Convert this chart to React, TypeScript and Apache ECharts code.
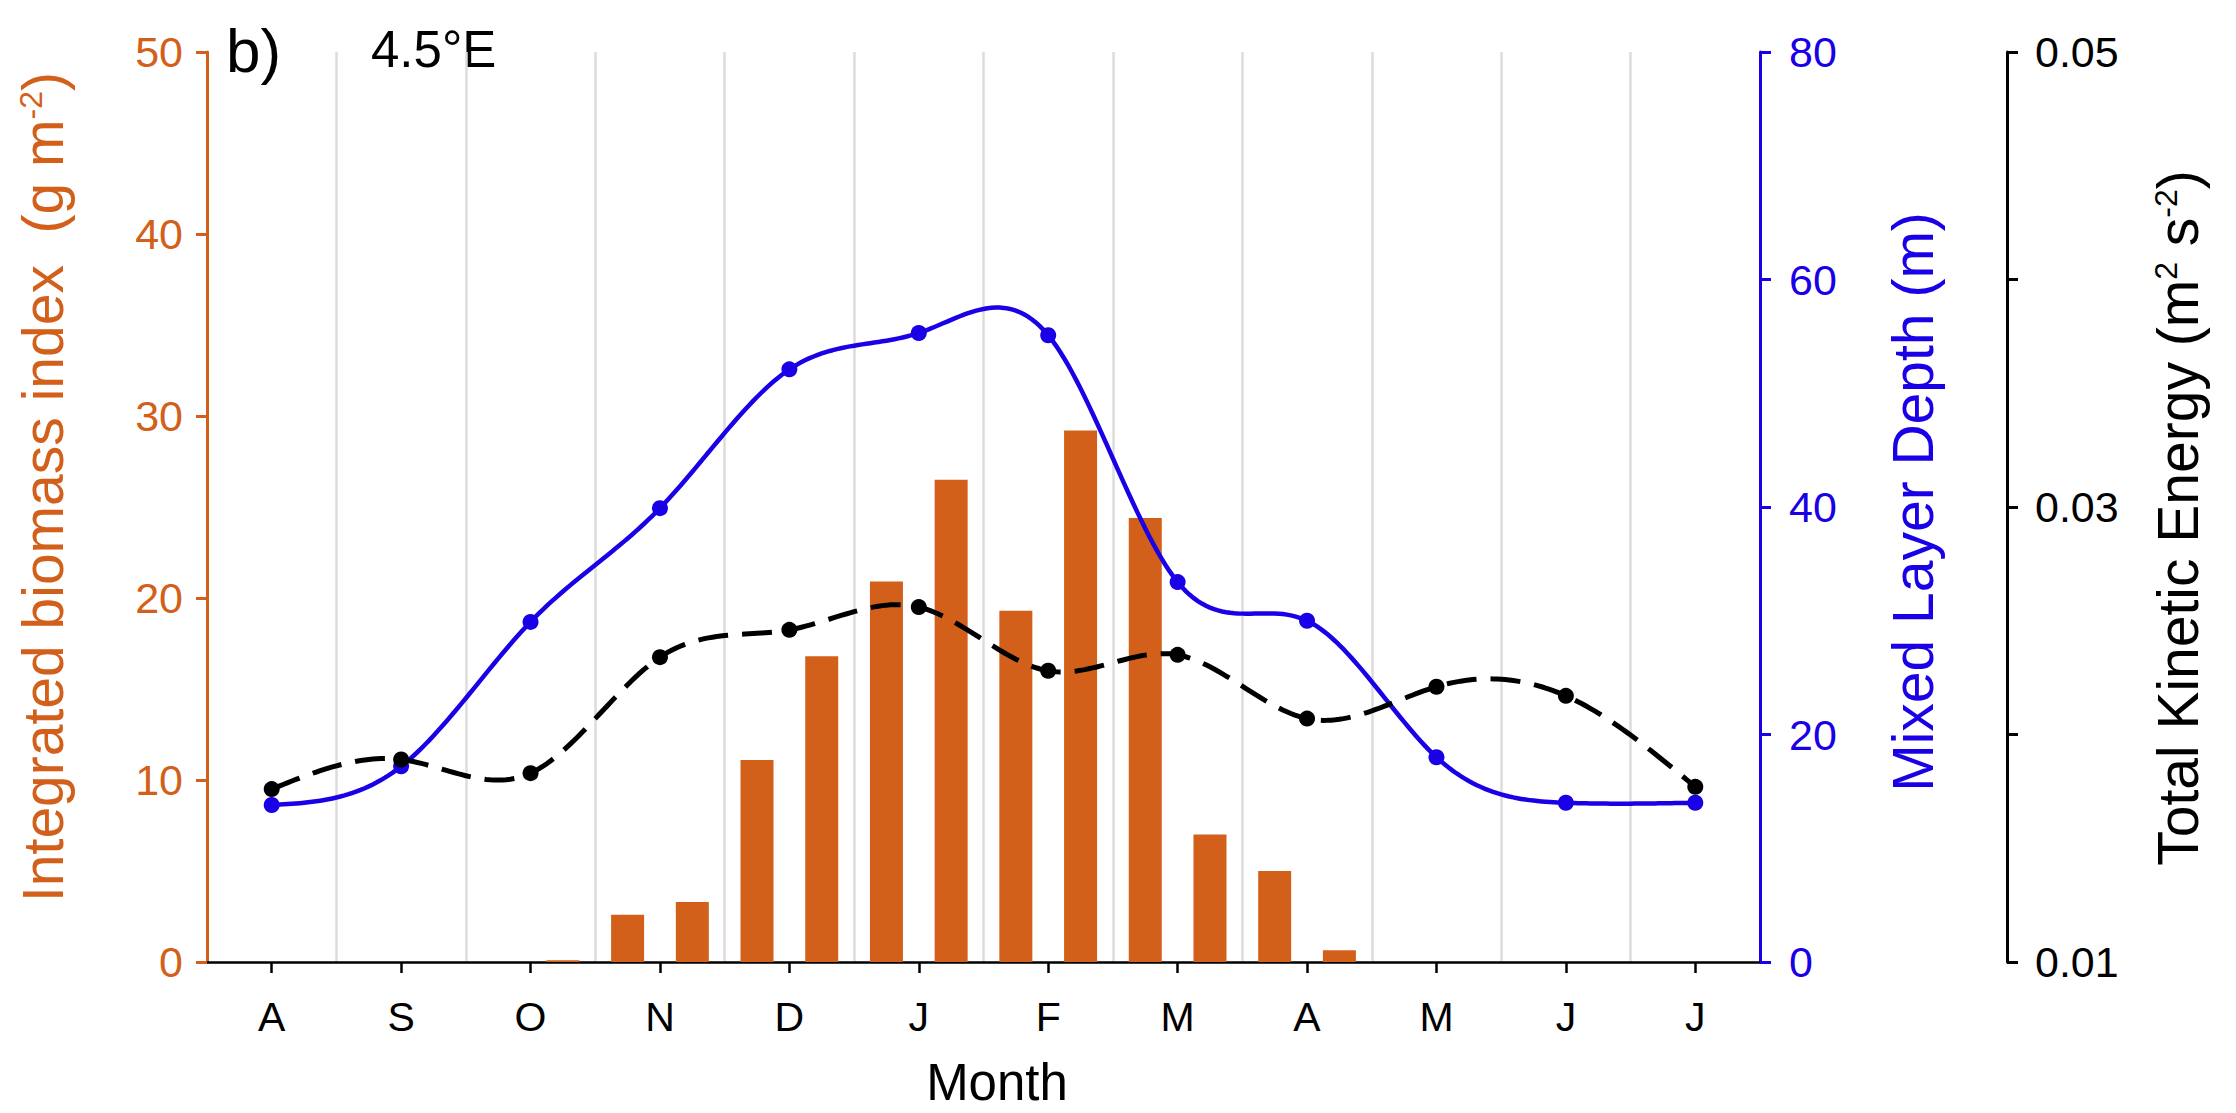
import React, { useEffect, useRef } from 'react';
import * as echarts from 'echarts';

// Month ticks (labels shown as first letter)
const months = ['Aug', 'Sep', 'Oct', 'Nov', 'Dec', 'Jan', 'Feb', 'Mar', 'Apr', 'May', 'Jun', 'Jul'];
// Half-month bins for the biomass bars
const halfMonths = [
  'Jul-b', 'Aug-a', 'Aug-b', 'Sep-a', 'Sep-b', 'Oct-a', 'Oct-b', 'Nov-a', 'Nov-b', 'Dec-a', 'Dec-b', 'Jan-a',
  'Jan-b', 'Feb-a', 'Feb-b', 'Mar-a', 'Mar-b', 'Apr-a', 'Apr-b', 'May-a', 'May-b', 'Jun-a', 'Jun-b', 'Jul-a',
];
// Integrated biomass index (g m-2)
const biomass = [0, 0, 0, 0, 0, 0.1, 2.6, 3.3, 11.1, 16.8, 20.9, 26.5, 19.3, 29.2, 24.4, 7.0, 5.0, 0.65, 0, 0, 0, 0, 0, 0];
// Mixed layer depth (m)
const mld = [13.8, 17.2, 29.9, 39.9, 52.1, 55.3, 55.1, 33.4, 30.0, 18.0, 14.0, 14.0];
// Total kinetic energy (m2 s-2)
const tke = [0.0176, 0.0189, 0.0183, 0.0234, 0.0246, 0.0256, 0.0228, 0.0235, 0.0207, 0.0221, 0.0217, 0.0177];

const ORANGE = '#D2601A';
const BLUE = '#1A00E6';
const BLACK = '#000000';
const FONT = '"Liberation Sans", Arial, sans-serif';

// Natural cubic spline second derivatives for equally spaced knots (h = 1)
function naturalM(y: number[]) {
  const n = y.length;
  const M = new Array(n).fill(0);
  if (n < 3) return M;
  const m = n - 2;
  const a = new Array(m).fill(1);
  const b = new Array(m).fill(4);
  const c = new Array(m).fill(1);
  const r = new Array(m);
  for (let i = 0; i < m; i++) r[i] = 6 * (y[i + 2] - 2 * y[i + 1] + y[i]);
  for (let i = 1; i < m; i++) {
    const w = a[i] / b[i - 1];
    b[i] -= w * c[i - 1];
    r[i] -= w * r[i - 1];
  }
  const s = new Array(m);
  s[m - 1] = r[m - 1] / b[m - 1];
  for (let i = m - 2; i >= 0; i--) s[i] = (r[i] - c[i] * s[i + 1]) / b[i];
  for (let i = 0; i < m; i++) M[i + 1] = s[i];
  return M;
}

function splineRenderer(values: number[], style: any) {
  const M = naturalM(values);
  const SAMPLES = 32;
  return (params: any, api: any) => {
    if (params.dataIndex !== 0) return { type: 'group', children: [] };
    const points: number[][] = [];
    for (let i = 0; i < values.length - 1; i++) {
      const pa = api.coord([i, values[i]]);
      const pb = api.coord([i + 1, values[i]]);
      for (let k = i === 0 ? 0 : 1; k <= SAMPLES; k++) {
        const t = k / SAMPLES;
        const u = 1 - t;
        const v =
          u * values[i] + t * values[i + 1] + ((u * u * u - u) * M[i]) / 6 + ((t * t * t - t) * M[i + 1]) / 6;
        const py = api.coord([i, v])[1];
        points.push([pa[0] + t * (pb[0] - pa[0]), py]);
      }
    }
    return {
      type: 'polyline',
      shape: { points },
      style: { fill: null, ...style },
    };
  };
}

export default function App() {
  const ref = useRef<HTMLDivElement>(null);

  useEffect(() => {
    if (!ref.current) return;
    const chart = echarts.init(ref.current, undefined, { renderer: 'svg' });
    const option: any = {
      animation: false,
      backgroundColor: '#ffffff',
      grid: { left: 207, right: 476, top: 52, bottom: 151, containLabel: false },
      xAxis: [
        {
          type: 'category',
          data: months,
          boundaryGap: true,
          position: 'bottom',
          axisLine: { show: true, lineStyle: { color: BLACK, width: 2.5 } },
          axisTick: { show: true, alignWithLabel: true, length: 11, lineStyle: { color: BLACK, width: 2.5 } },
          axisLabel: {
            formatter: (v: string) => v.charAt(0),
            fontSize: 41,
            color: BLACK,
            fontFamily: FONT,
            margin: 34,
          },
          splitLine: { show: true, lineStyle: { color: '#dcdcdc', width: 2.5 } },
        },
        {
          type: 'category',
          data: halfMonths,
          boundaryGap: true,
          show: false,
          position: 'bottom',
        },
      ],
      yAxis: [
        {
          type: 'value',
          position: 'left',
          min: 0,
          max: 50,
          interval: 10,
          axisLine: { show: true, lineStyle: { color: ORANGE, width: 3 } },
          axisTick: { show: true, length: 11, lineStyle: { color: ORANGE, width: 3 } },
          axisLabel: { color: ORANGE, fontSize: 43, fontFamily: FONT, margin: 24 },
          splitLine: { show: false },
        },
        {
          type: 'value',
          position: 'right',
          min: 0,
          max: 80,
          interval: 20,
          offset: 0,
          axisLine: { show: true, lineStyle: { color: BLUE, width: 3 } },
          axisTick: { show: true, length: 11, lineStyle: { color: BLUE, width: 3 } },
          axisLabel: { color: BLUE, fontSize: 43, fontFamily: FONT, margin: 29 },
          splitLine: { show: false },
        },
        {
          type: 'value',
          position: 'right',
          min: 0.01,
          max: 0.05,
          interval: 0.01,
          offset: 247,
          axisLine: { show: true, lineStyle: { color: BLACK, width: 3 } },
          axisTick: { show: true, length: 11, lineStyle: { color: BLACK, width: 3 } },
          axisLabel: {
            color: BLACK,
            fontSize: 43,
            fontFamily: FONT,
            margin: 28,
            formatter: (v: number) => {
              const k = Math.round(v * 100);
              return k % 2 === 1 ? (k / 100).toFixed(2) : '';
            },
          },
          splitLine: { show: false },
        },
      ],
      series: [
        {
          name: 'Integrated biomass index',
          type: 'bar',
          xAxisIndex: 1,
          yAxisIndex: 0,
          data: biomass,
          barWidth: 33,
          itemStyle: { color: ORANGE },
          z: 2,
        },
        {
          name: 'Mixed Layer Depth curve',
          type: 'custom',
          coordinateSystem: 'cartesian2d',
          xAxisIndex: 0,
          yAxisIndex: 1,
          data: mld.map((v, i) => [i, v]),
          encode: { x: 0, y: 1 },
          renderItem: splineRenderer(mld, { stroke: BLUE, lineWidth: 4.5 }),
          z: 3,
        },
        {
          name: 'Mixed Layer Depth',
          type: 'scatter',
          xAxisIndex: 0,
          yAxisIndex: 1,
          data: mld.map((v, i) => [i, v]),
          symbol: 'circle',
          symbolSize: 16,
          itemStyle: { color: BLUE, opacity: 1 },
          z: 4,
        },
        {
          name: 'Total Kinetic Energy curve',
          type: 'custom',
          coordinateSystem: 'cartesian2d',
          xAxisIndex: 0,
          yAxisIndex: 2,
          data: tke.map((v, i) => [i, v]),
          encode: { x: 0, y: 1 },
          renderItem: splineRenderer(tke, { stroke: BLACK, lineWidth: 5, lineDash: [30, 14] }),
          z: 5,
        },
        {
          name: 'Total Kinetic Energy',
          type: 'scatter',
          xAxisIndex: 0,
          yAxisIndex: 2,
          data: tke.map((v, i) => [i, v]),
          symbol: 'circle',
          symbolSize: 16,
          itemStyle: { color: BLACK, opacity: 1 },
          z: 6,
        },
      ],
      graphic: [
        {
          type: 'text',
          x: 226,
          y: 50,
          style: { text: 'b)', fontSize: 62, fontFamily: FONT, fill: BLACK, verticalAlign: 'middle', align: 'left' },
        },
        {
          type: 'text',
          x: 371,
          y: 49,
          style: { text: '4.5°E', fontSize: 51, fontFamily: FONT, fill: BLACK, verticalAlign: 'middle', align: 'left' },
        },
        {
          type: 'text',
          x: 997,
          y: 1082,
          style: { text: 'Month', fontSize: 51, fontFamily: FONT, fill: BLACK, verticalAlign: 'middle', align: 'center' },
        },
        {
          type: 'text',
          x: 43,
          y: 487,
          rotation: Math.PI / 2,
          style: {
            text: 'Integrated biomass index  (g m{sup|-2})',
            fontSize: 57,
            fontFamily: FONT,
            fill: ORANGE,
            align: 'center',
            verticalAlign: 'middle',
            rich: { sup: { fontSize: 32, fontFamily: FONT, fill: ORANGE, verticalAlign: 'top' } },
          },
        },
        {
          type: 'text',
          x: 1913,
          y: 502,
          rotation: Math.PI / 2,
          style: {
            text: 'Mixed Layer Depth (m)',
            fontSize: 57,
            fontFamily: FONT,
            fill: BLUE,
            align: 'center',
            verticalAlign: 'middle',
          },
        },
        {
          type: 'text',
          x: 2178,
          y: 518,
          rotation: Math.PI / 2,
          style: {
            text: 'Total Kinetic Energy (m{sup|2} s{sup|-2})',
            fontSize: 57,
            fontFamily: FONT,
            fill: BLACK,
            align: 'center',
            verticalAlign: 'middle',
            rich: { sup: { fontSize: 32, fontFamily: FONT, fill: BLACK, verticalAlign: 'top' } },
          },
        },
      ],
    };
    chart.setOption(option);
    return () => {
      chart.dispose();
    };
  }, []);

  return (
    <div
      ref={ref}
      style={{ position: 'fixed', left: 0, top: 0, width: 2236, height: 1113, background: '#fff' }}
    />
  );
}
